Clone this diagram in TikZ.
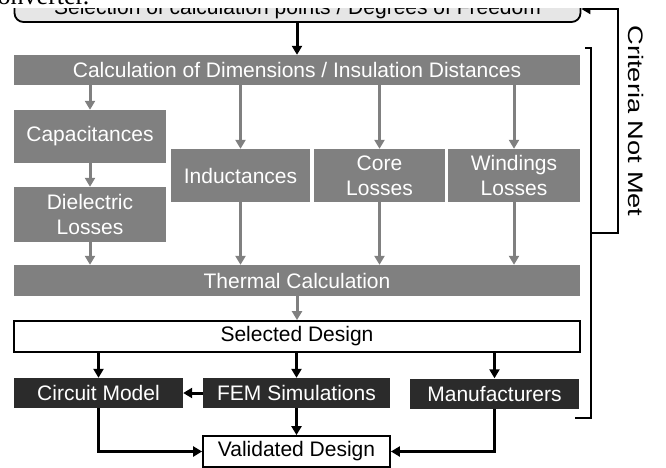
\documentclass[tikz,border=0pt]{standalone}
\usepackage{fontspec}
\newfontfamily\arialfont{Liberation Sans}
\newfontfamily\pagefont{Liberation Serif}
\usepackage{graphicx}
\usetikzlibrary{arrows.meta}
\definecolor{boxgray}{HTML}{808080}
\definecolor{boxdark}{HTML}{2B2B2B}
\definecolor{topgray}{HTML}{E6E6E6}

\begin{document}
\begin{tikzpicture}[x=1pt,y=-1pt,
    font=\arialfont\fontsize{21}{25}\selectfont,
    every node/.style={inner sep=0pt, align=center},
    graybox/.style={fill=boxgray, text=white},
    darkbox/.style={fill=boxdark, text=white},
    whitebox/.style={draw, line width=1.8pt, fill=white},
    grayarrow/.style={-{Triangle[length=9pt,width=10pt]}, draw=boxgray, line width=3pt},
    blackarrow/.style={-{Triangle[length=9pt,width=10pt]}, line width=3pt}]
    \useasboundingbox (0,0) rectangle (666,468);

    % design loop
    \node[draw, line width=1.8pt, fill=topgray, rounded corners=9pt, minimum width=566pt, minimum height=26pt] (sel) at (297.5,9) {Selection of calculation points / Degrees of Freedom};
    \node[graybox, minimum width=566pt, minimum height=30pt] (calc) at (297,70) {Calculation of Dimensions / Insulation Distances};
    \node[graybox, minimum width=152pt, minimum height=53pt] (cap) at (90,136.5) {Capacitances};
    \node[graybox, minimum width=152pt, minimum height=55pt] (diel) at (90,214.5) {Dielectric\\Losses};
    \node[graybox, minimum width=139pt, minimum height=53pt] (ind) at (240.5,175.5) {Inductances};
    \node[graybox, minimum width=131pt, minimum height=53pt] (core) at (379.5,175.5) {Core\\Losses};
    \node[graybox, minimum width=132pt, minimum height=53pt] (wind) at (514,175.5) {Windings\\Losses};
    \node[graybox, minimum width=566pt, minimum height=31pt] (therm) at (297,280.5) {Thermal Calculation};

    % validation
    \node[whitebox, minimum width=566pt, minimum height=31pt] (seld) at (297,336.5) {Selected Design};
    \node[darkbox, minimum width=169pt, minimum height=30pt] (circ) at (98.5,393) {Circuit Model};
    \node[darkbox, minimum width=187pt, minimum height=30pt] (fem) at (296.5,393) {FEM Simulations};
    \node[darkbox, minimum width=169pt, minimum height=30pt] (manu) at (494.5,393.5) {Manufacturers};
    \node[whitebox, minimum width=187pt, minimum height=31pt] (valid) at (296.5,451.5) {Validated Design};

    \draw[blackarrow] (sel.south -| calc.north) -- (calc.north);
    \draw[grayarrow] (calc.south -| cap.north) -- (cap.north);
    \draw[grayarrow] (calc.south -| ind.north) -- (ind.north);
    \draw[grayarrow] (calc.south -| core.north) -- (core.north);
    \draw[grayarrow] (calc.south -| wind.north) -- (wind.north);
    \draw[grayarrow] (cap.south) -- (diel.north);
    \draw[grayarrow] (diel.south) -- (therm.north -| diel.south);
    \draw[grayarrow] (ind.south) -- (therm.north -| ind.south);
    \draw[grayarrow] (core.south) -- (therm.north -| core.south);
    \draw[grayarrow] (wind.south) -- (therm.north -| wind.south);
    \draw[grayarrow] (therm.south) -- (seld.north);

    \draw[blackarrow] (seld.south -| circ.north) -- (circ.north);
    \draw[blackarrow] (seld.south -| fem.north) -- (fem.north);
    \draw[blackarrow] (seld.south -| manu.north) -- (manu.north);
    \draw[blackarrow] (fem.west) -- (circ.east);
    \draw[blackarrow] (fem.south) -- (valid.north);
    \draw[blackarrow] (circ.south) |- (valid.west);
    \draw[blackarrow] (manu.south) |- (valid.east);

    % feedback bracket
    \coordinate (brtop) at (591,48);
    \coordinate (brbot) at (591,418);
    \coordinate (brmid) at (591,233);
    \coordinate (fbturn) at (618,233);
    \draw[line width=2.5pt] ([xshift=-6pt]brtop) -- (brtop) -- (brbot) -- ([xshift=-16pt]brbot);
    \draw[blackarrow, line width=2pt] (brmid) -- (fbturn) |- (sel.east);
    \node[rotate=-90] (crit) at (636,121) {\scalebox{1.3}[1]{Criteria Not Met}};

    % page text above the figure
    \fill[white] (0,0) rectangle (600,8);
    \node[anchor=base west, font=\pagefont\fontsize{26}{30}\selectfont] (pagetext) at (-14,5) {converter.};
\end{tikzpicture}
\end{document}
